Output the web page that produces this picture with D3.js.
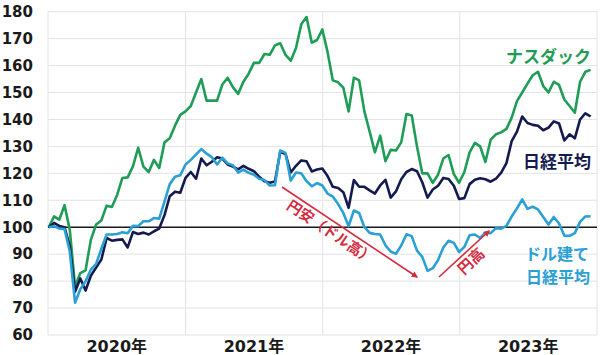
<!DOCTYPE html>
<html>
<head>
<meta charset="utf-8">
<script src="https://cdn.jsdelivr.net/npm/d3@7"></script>
<style>
  body { margin: 0; background: #fff; }
  svg { display: block; }
  .ytick text { font-family: "DejaVu Sans", Verdana, sans-serif; font-weight: bold; font-size: 15px; fill: #1a1a1a; }
</style>
</head>
<body>
<div class="chart"></div>
<script>
var svgWidth = 600;
var svgHeight = 355;

var margin = { top: 11.7, right: 3, bottom: 20, left: 48 };
var width = svgWidth - margin.left - margin.right;
var height = svgHeight - margin.top - margin.bottom;

// biweekly sampling, first Friday of 2020
var startDate = new Date(2020, 0, 3);
var stepDays = 14;

// index levels, start of 2020 = 100
var nasdaq = [100, 104, 102.8, 108.2, 99, 78, 83, 84, 95.3, 101,
  102.5, 108, 107.5, 112, 118.3, 118.5, 122.6, 129.5, 122.5, 120.5,
  125, 122, 131.5, 133, 137.7, 141.7, 143, 145, 150, 155,
  147, 147, 147, 153, 155.5, 152, 149.5, 154, 157, 161,
  161, 164.3, 164, 167.5, 168.3, 164, 161.8, 166.5, 175.3, 178,
  168.5, 169.5, 173.4, 165, 154.5, 153.8, 151.8, 143, 155.5, 154.5,
  143, 135.5, 127.8, 134, 124.5, 128.7, 128.5, 131.5, 142, 141.5,
  130, 120, 120, 116.5, 119.5, 125.5, 126.8, 119.7, 116.5, 120.5,
  127.8, 131.3, 130, 124.2, 132.5, 134.5, 135.2, 136.5, 140.7, 146.8,
  150, 153.3, 156.4, 157.7, 152.4, 150, 154, 152.8, 147.4, 145,
  142.5, 154, 157.7, 158.4];

var nikkei = [100, 101.6, 100.5, 100, 93, 76, 81, 76.5, 82, 85,
  88, 96, 95, 95.3, 95.5, 92.5, 98.2, 97.5, 98, 97.3,
  98.5, 99.5, 104.5, 111.5, 113.2, 112.8, 118.3, 120.5, 118, 125.5,
  123, 124.3, 126, 125.5, 123.3, 122.5, 121.5, 122.8, 121.7, 120.8,
  118.7, 117.1, 116.5, 117, 128, 127.2, 120.3, 122.8, 124.8, 124.5,
  120.7, 121.4, 121.8, 119, 115, 114.6, 113, 107.2, 117.5, 115,
  115, 113.7, 112.5, 115.5, 117.6, 111, 113.3, 117.8, 120.5, 121.6,
  120.8, 116.7, 111, 114, 115.4, 118.3, 117.9, 115.4, 110.5, 110.8,
  116, 117.6, 118.2, 117.8, 116.9, 118, 120.3, 123.8, 132, 135.5,
  141.1, 138.7, 138, 137.7, 136, 137, 139.3, 138.5, 132.2, 134.5,
  133, 140, 142.3, 141.1];

var nikkeiUsd = [100, 100.4, 99.5, 99.3, 91, 72, 77, 80, 84.2, 86.4,
  92, 97.3, 97.3, 97.5, 98.1, 97.8, 100.5, 100.4, 102.2, 102.2,
  103.4, 103.2, 109.5, 116, 118.7, 119.3, 123.3, 125, 127, 129,
  127.3, 126, 123.3, 125.8, 123.7, 123, 120.3, 121.4, 120.2, 119.5,
  118, 117.5, 115.5, 115.6, 128.5, 127.6, 117.3, 120.3, 120, 117.1,
  115.2, 116.4, 115.5, 112.5, 111.4, 108.6, 105.3, 100.4, 106.2, 105.3,
  100, 97.9, 97.5, 97.3, 93.3, 91, 90.1, 93.2, 97.4, 96.7,
  91.3, 89, 83.8, 84.8, 87.8, 92.5, 95, 94.2, 90.8, 92.7,
  97, 97.3, 96, 98, 97.8, 99.6, 99.5, 100.5, 104, 107,
  110.3, 106.8, 107.6, 106.6, 103.8, 101, 103.8, 101.4, 96.9, 96.8,
  97.8, 102, 104, 104.1];

var yearLabels = ["2020年", "2021年", "2022年", "2023年"];
var yTicks = [60, 70, 80, 90, 100, 110, 120, 130, 140, 150, 160, 170, 180];

var dates = nasdaq.map(function (d, i) { return d3.timeDay.offset(startDate, i * stepDays); });

var svg = d3.select(".chart")
  .append("svg")
  .attr("width", svgWidth)
  .attr("height", svgHeight);

var chartGroup = svg.append("g")
  .attr("transform", `translate(${margin.left}, ${margin.top})`);

var xTimeScale = d3.scaleTime()
  .domain([new Date(2020, 0, 1), new Date(2024, 0, 1)])
  .range([0, width]);

var yLinearScale = d3.scaleLinear()
  .domain([60, 180])
  .range([height, 0]);

// gridlines
chartGroup.append("g")
  .selectAll("line")
  .data(yTicks)
  .enter()
  .append("line")
  .attr("x1", 0)
  .attr("x2", width)
  .attr("y1", d => yLinearScale(d))
  .attr("y2", d => yLinearScale(d))
  .attr("stroke", "#e3e3e3")
  .attr("stroke-width", 1);

var yearStarts = d3.range(2020, 2025).map(y => new Date(y, 0, 1));
chartGroup.append("g")
  .selectAll("line")
  .data(yearStarts)
  .enter()
  .append("line")
  .attr("x1", d => xTimeScale(d))
  .attr("x2", d => xTimeScale(d))
  .attr("y1", 0)
  .attr("y2", height)
  .attr("stroke", "#e3e3e3")
  .attr("stroke-width", 1);

// y axis labels
var leftAxis = d3.axisLeft(yLinearScale)
  .tickValues(yTicks)
  .tickSize(0)
  .tickPadding(15);

chartGroup.append("g")
  .attr("class", "ytick")
  .call(leftAxis)
  .call(g => g.select(".domain").remove());

// year labels
chartGroup.append("g")
  .selectAll("text")
  .data(yearLabels)
  .enter()
  .append("text")
  .attr("x", (d, i) => xTimeScale(new Date(2020 + i, 6, 2)))
  .attr("y", height + 17)
  .attr("text-anchor", "middle")
  .style("font-family", "'DejaVu Sans', 'Noto Sans CJK JP', sans-serif")
  .style("font-weight", "bold")
  .style("font-size", "16px")
  .style("fill", "#1a1a1a")
  .text(d => d);

// base line at 100
chartGroup.append("line")
  .attr("x1", 0)
  .attr("x2", width)
  .attr("y1", yLinearScale(100))
  .attr("y2", yLinearScale(100))
  .attr("stroke", "#1a1a1a")
  .attr("stroke-width", 1.6);

var line = d3.line()
  .x((d, i) => xTimeScale(dates[i]))
  .y(d => yLinearScale(d));

var series = [
  { values: nasdaq, color: "#1f9d57" },
  { values: nikkei, color: "#141a4f" },
  { values: nikkeiUsd, color: "#2aa0d4" }
];

series.forEach(function (s) {
  chartGroup.append("path")
    .datum(s.values)
    .attr("fill", "none")
    .attr("stroke", s.color)
    .attr("stroke-width", 2.6)
    .attr("stroke-linejoin", "round")
    .attr("d", line);
});

// series labels
var jp = "'Noto Sans CJK JP', sans-serif";
function label(txt, x, y, color, size) {
  svg.append("text")
    .attr("x", x)
    .attr("y", y)
    .attr("text-anchor", "end")
    .style("font-family", jp)
    .style("font-weight", "bold")
    .style("font-size", size + "px")
    .style("fill", color)
    .text(txt);
}
label("ナスダック", 591, 63, "#1f9d57", 17);
label("日経平均", 591, 168, "#141a4f", 17);
label("ドル建て", 589, 260, "#2aa0d4", 16);
label("日経平均", 590, 283, "#2aa0d4", 16);

// yen arrows
var red = "#d62b3f";
svg.append("defs").append("marker")
  .attr("id", "arr")
  .attr("viewBox", "0 0 10 10")
  .attr("refX", 8)
  .attr("refY", 5)
  .attr("markerWidth", 4)
  .attr("markerHeight", 4)
  .attr("orient", "auto")
  .append("path")
  .attr("d", "M0,0 L10,5 L0,10 z")
  .attr("fill", red);

svg.append("line")
  .attr("x1", 282).attr("y1", 187)
  .attr("x2", 417).attr("y2", 277)
  .attr("stroke", red)
  .attr("stroke-width", 1.6)
  .attr("marker-end", "url(#arr)");

svg.append("text")
  .attr("transform", "translate(330,233) rotate(34)")
  .attr("text-anchor", "middle")
  .attr("dominant-baseline", "middle")
  .style("font-family", jp)
  .style("font-weight", "bold")
  .style("font-size", "14.5px")
  .style("fill", red)
  .text("円安（ドル高）");

svg.append("line")
  .attr("x1", 439).attr("y1", 277)
  .attr("x2", 489).attr("y2", 231)
  .attr("stroke", red)
  .attr("stroke-width", 1.6)
  .attr("marker-end", "url(#arr)");

svg.append("text")
  .attr("transform", "translate(472,262) rotate(-43)")
  .attr("text-anchor", "middle")
  .attr("dominant-baseline", "middle")
  .style("font-family", jp)
  .style("font-weight", "bold")
  .style("font-size", "15px")
  .style("fill", red)
  .text("円高");
</script>
</body>
</html>
